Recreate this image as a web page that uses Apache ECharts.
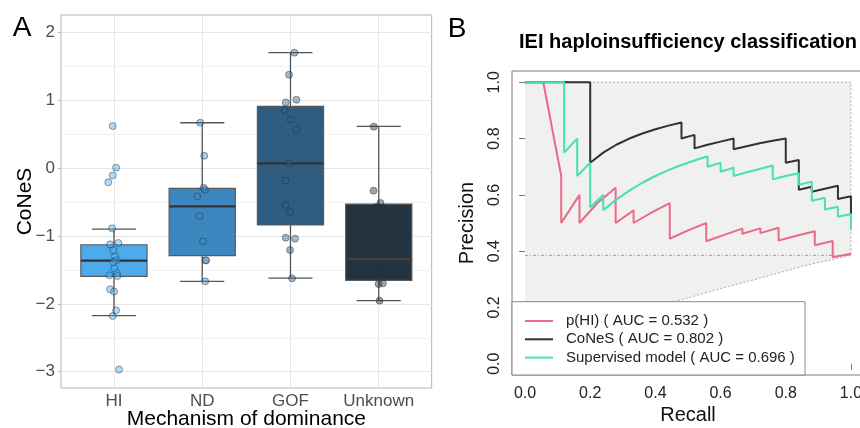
<!DOCTYPE html>
<html><head><meta charset="utf-8">
<script src="https://cdn.jsdelivr.net/npm/echarts@6/dist/echarts.min.js"></script>
<style>html,body{margin:0;padding:0;background:#fff}#c{width:860px;height:428px}</style>
</head><body><div id="c"></div>
<script>
// ---------- Panel A data ----------
const categories = ['HI', 'ND', 'GOF', 'Unknown'];
const whiskerLow  = [-2.174, -1.669, -1.62, -1.953];
const q1          = [-1.595, -1.29, -0.839, -1.654];
const median      = [-1.364, -0.564, 0.069, -1.34];
const q3          = [-1.13, -0.299, 0.909, -0.53];
const whiskerHigh = [-0.898, 0.668, 1.70, 0.614];
const yTicksA = [-3, -2, -1, 0, 1, 2];
const yMinorA = [-2.5, -1.5, -0.5, 0.5, 1.5];
// points: [jitter offset, CoNeS]
const hiPoints = [[-0.014,0.619],[0.024,0.005],[-0.014,-0.108],[-0.064,-0.21],[-0.022,-0.888],[-0.044,-1.124],[0.05,-1.104],[-0.007,-1.212],[0.012,-1.30],[0.032,-1.359],[-0.007,-1.384],[0.005,-1.48],[0.032,-1.546],[-0.052,-1.58],[0.039,-1.59],[-0.044,-1.786],[0.001,-1.82],[0.024,-2.096],[-0.014,-2.18],[0.058,-2.969]];
const ndPoints = [[-0.023,0.668],[0.023,0.182],[0.015,-0.289],[0.031,-0.318],[-0.057,-0.417],[-0.031,-0.707],[0.008,-1.08],[0.037,-1.359],[0.045,-1.36],[0.034,-1.669]];
const gofPoints = [[0.044,1.70],[-0.016,1.375],[0.067,1.007],[-0.054,0.967],[-0.066,0.85],[0.002,0.717],[0.067,0.565],[-0.012,0.069],[-0.054,-0.186],[-0.054,-0.545],[-0.005,-0.652],[-0.054,-1.026],[0.052,-1.04],[-0.005,-1.207],[0.018,-1.625]];
const unkPoints = [[-0.056,0.61],[-0.059,-0.333],[0.02,-0.515],[-0.025,-0.574],[0.066,-1.187],[0.02,-1.487],[0.035,-1.536],[-0.002,-1.708],[0.047,-1.698],[0.009,-1.953]];

// ---------- Panel B data ----------
const seriesNames = ['p(HI) ( AUC = 0.532 )', 'CoNeS ( AUC = 0.802 )', 'Supervised model ( AUC = 0.696 )'];
const prHI = [[0,1],[0.056,1],[0.111,0.667],[0.111,0.5],[0.167,0.6],[0.167,0.5],[0.222,0.571],[0.278,0.625],[0.278,0.5],[0.333,0.545],[0.333,0.5],[0.389,0.538],[0.444,0.571],[0.444,0.444],[0.5,0.474],[0.556,0.5],[0.556,0.435],[0.611,0.458],[0.667,0.48],[0.667,0.462],[0.722,0.481],[0.722,0.464],[0.778,0.483],[0.778,0.438],[0.833,0.455],[0.889,0.471],[0.889,0.421],[0.944,0.436],[0.944,0.378],[1,0.391]];
const prCoNeS = [[0,1],[0.2,1],[0.2,0.714],[0.24,0.75],[0.28,0.778],[0.32,0.8],[0.36,0.818],[0.4,0.833],[0.44,0.846],[0.48,0.857],[0.48,0.8],[0.52,0.813],[0.52,0.765],[0.56,0.778],[0.6,0.789],[0.64,0.8],[0.64,0.762],[0.68,0.773],[0.72,0.783],[0.76,0.792],[0.8,0.8],[0.8,0.714],[0.84,0.724],[0.84,0.618],[0.88,0.629],[0.88,0.611],[0.92,0.622],[0.96,0.632],[0.96,0.585],[1,0.595],[1,0.532]];
const prSupervised = [[0,1],[0.12,1],[0.12,0.75],[0.16,0.8],[0.16,0.667],[0.2,0.714],[0.2,0.556],[0.24,0.6],[0.24,0.545],[0.28,0.583],[0.32,0.615],[0.36,0.643],[0.4,0.667],[0.44,0.688],[0.48,0.706],[0.52,0.722],[0.56,0.737],[0.56,0.7],[0.6,0.714],[0.6,0.682],[0.64,0.696],[0.64,0.667],[0.68,0.68],[0.72,0.692],[0.76,0.704],[0.76,0.655],[0.8,0.667],[0.84,0.677],[0.84,0.636],[0.88,0.647],[0.88,0.579],[0.92,0.59],[0.92,0.548],[0.96,0.558],[0.96,0.522],[1,0.532],[1,0.477]];
const baseline = 0.385;
const lowerBound = [[1,0.385],[0.87,0.352],[0.74,0.31],[0.6,0.267],[0.455,0.219],[0.3,0.155],[0.2,0.11],[0.1,0.058],[0,0]];
const bTicks = [0, 0.2, 0.4, 0.6, 0.8, 1.0];

// ---------- styles ----------
const FONT = "'Liberation Sans', Arial, Helvetica, sans-serif";
const boxColors = ['#4EABEB', '#3D87C1', '#2F5D82', '#23333F'];
const pointFill = ['rgba(78,171,235,0.55)', 'rgba(61,135,193,0.55)', 'rgba(47,93,130,0.55)', 'rgba(35,51,63,0.55)'];
const lineColors = ['#EC6A86', '#30303A', '#45E2AC'];

const catPos = categories.map((c, i) => i + 1);
const boxData = categories.map((c, i) => [i + 1, whiskerLow[i], q1[i], median[i], q3[i], whiskerHigh[i]]);
const pointSets = [hiPoints, ndPoints, gofPoints, unkPoints];
const regionPts = [[0, 1], [1, 1]].concat(lowerBound);
const outlinePts = [[0, 1], [1, 1]].concat(lowerBound);

const minusFmt = v => (v < 0 ? '\u2212' + Math.abs(v) : String(v));

const chart = echarts.init(document.getElementById('c'), null, {renderer: 'canvas'});

const series = [];
// boxes
series.push({
  type: 'custom', xAxisIndex: 0, yAxisIndex: 0, z: 2, silent: true,
  data: boxData,
  renderItem: function (params, api) {
    const x = api.value(0), lo = api.value(1), a = api.value(2), m = api.value(3), b = api.value(4), hi = api.value(5);
    const hb = 0.375, hc = 0.25;
    const P = (xx, yy) => api.coord([xx, yy]);
    const col = boxColors[params.dataIndex];
    const wStyle = {stroke: '#555', lineWidth: 1.3, fill: null};
    const tl = P(x - hb, b), br = P(x + hb, a);
    const mL = P(x - hb, m), mR = P(x + hb, m);
    return {type: 'group', children: [
      {type: 'line', shape: {x1: P(x, b)[0], y1: P(x, b)[1], x2: P(x, hi)[0], y2: P(x, hi)[1]}, style: wStyle},
      {type: 'line', shape: {x1: P(x, a)[0], y1: P(x, a)[1], x2: P(x, lo)[0], y2: P(x, lo)[1]}, style: wStyle},
      {type: 'line', shape: {x1: P(x - hc, hi)[0], y1: P(x - hc, hi)[1], x2: P(x + hc, hi)[0], y2: P(x + hc, hi)[1]}, style: wStyle},
      {type: 'line', shape: {x1: P(x - hc, lo)[0], y1: P(x - hc, lo)[1], x2: P(x + hc, lo)[0], y2: P(x + hc, lo)[1]}, style: wStyle},
      {type: 'rect', shape: {x: tl[0], y: tl[1], width: br[0] - tl[0], height: br[1] - tl[1]}, style: {fill: col, stroke: '#5a5a5a', lineWidth: 1.2}},
      {type: 'line', shape: {x1: mL[0], y1: mL[1], x2: mR[0], y2: mR[1]}, style: {stroke: params.dataIndex === 3 ? '#4a3f36' : '#333', lineWidth: 2.2}}
    ]};
  },
  markLine: {
    silent: true, symbol: 'none', z: 1, animation: false,
    label: {show: false},
    lineStyle: {color: '#F2F2F2', type: 'solid', width: 1},
    data: yMinorA.map(v => ({yAxis: v}))
  }
});
pointSets.forEach((pts, i) => {
  series.push({
    type: 'scatter', xAxisIndex: 0, yAxisIndex: 0, z: 3, silent: true,
    symbolSize: 7,
    itemStyle: {color: pointFill[i], borderColor: 'rgba(25,40,55,0.55)', borderWidth: 1},
    data: pts.map(p => [i + 1 + p[0], p[1]])
  });
});
// panel B region
series.push({
  type: 'custom', xAxisIndex: 1, yAxisIndex: 1, z: 1, silent: true,
  data: regionPts,
  renderItem: function (params, api) {
    if (params.dataIndex !== 0) return null;
    return {type: 'polygon', shape: {points: regionPts.map(p => api.coord(p))}, style: {fill: '#F0F0F0'}};
  }
});
series.push({
  type: 'line', xAxisIndex: 1, yAxisIndex: 1, z: 1, silent: true, symbol: 'none',
  data: outlinePts, lineStyle: {color: '#AAAAAA', width: 1, type: [2, 2]}
});
series.push({
  type: 'line', xAxisIndex: 1, yAxisIndex: 1, z: 1, silent: true, symbol: 'none',
  data: [[0, baseline], [1, baseline]], lineStyle: {color: '#999', width: 1, type: [3, 2, 1, 2]}
});
[prHI, prCoNeS, prSupervised].forEach((d, i) => {
  series.push({
    type: 'line', name: seriesNames[i], xAxisIndex: 1, yAxisIndex: 1, z: 3 + i, silent: true,
    symbol: 'none', data: d, color: lineColors[i],
    lineStyle: {color: lineColors[i], width: 2}
  });
});

const option = {
  animation: false,
  backgroundColor: '#fff',
  textStyle: {fontFamily: FONT},
  grid: [
    {left: 61, top: 15, width: 370.7, height: 373, show: true, borderColor: '#B3B3B3', borderWidth: 1, backgroundColor: '#fff', outerBoundsMode: 'none', containLabel: false},
    {left: 512, top: 71, width: 352, height: 304, show: true, borderColor: '#7a7a7a', borderWidth: 1, backgroundColor: 'transparent', outerBoundsMode: 'none', containLabel: false}
  ],
  xAxis: [
    {
      type: 'value', gridIndex: 0, min: 0.4, max: 4.6,
      axisLine: {show: false},
      axisTick: {show: true, customValues: catPos, length: 3, lineStyle: {color: '#B3B3B3'}},
      axisLabel: {customValues: catPos, formatter: v => categories[Math.round(v) - 1], fontSize: 17, color: '#4D4D4D', margin: 5, fontFamily: FONT},
      splitLine: {show: true, lineStyle: {color: '#E6E6E6', width: 1}},
      name: 'Mechanism of dominance', nameLocation: 'middle', nameGap: 21, nameMoveOverlap: false,
      nameTextStyle: {fontSize: 21, color: '#000', fontFamily: FONT}
    },
    {
      type: 'value', gridIndex: 1, min: -0.04, max: 1.04,
      axisLine: {show: false},
      axisTick: {show: true, customValues: bTicks, length: 6, lineStyle: {color: '#777'}},
      axisLabel: {customValues: bTicks, formatter: v => v.toFixed(1), fontSize: 16, color: '#222', margin: 11, fontFamily: FONT, showMinLabel: true, showMaxLabel: true, hideOverlap: false},
      splitLine: {show: false},
      name: 'Recall', nameLocation: 'middle', nameGap: 30, nameMoveOverlap: false,
      nameTextStyle: {fontSize: 20, color: '#111', fontFamily: FONT}
    }
  ],
  yAxis: [
    {
      type: 'value', gridIndex: 0, min: -3.24, max: 2.255,
      axisLine: {show: false},
      axisTick: {show: true, customValues: yTicksA, length: 3, lineStyle: {color: '#B3B3B3'}},
      axisLabel: {customValues: yTicksA, formatter: minusFmt, fontSize: 17, color: '#4D4D4D', margin: 6, fontFamily: FONT},
      splitLine: {show: true, lineStyle: {color: '#E6E6E6', width: 1}},
      name: 'CoNeS', nameLocation: 'middle', nameGap: 25, nameMoveOverlap: false,
      nameTextStyle: {fontSize: 21, color: '#000', fontFamily: FONT}
    },
    {
      type: 'value', gridIndex: 1, min: -0.04, max: 1.04,
      axisLine: {show: false},
      axisTick: {show: true, customValues: bTicks, length: 6, lineStyle: {color: '#777'}},
      axisLabel: {customValues: bTicks, formatter: v => v.toFixed(1), rotate: 90, fontSize: 16, color: '#222', margin: 9, fontFamily: FONT, showMinLabel: true, showMaxLabel: true},
      splitLine: {show: false},
      name: 'Precision', nameLocation: 'middle', nameGap: 35, nameMoveOverlap: false,
      nameTextStyle: {fontSize: 20, color: '#111', fontFamily: FONT}
    }
  ],
  legend: {
    data: seriesNames, orient: 'vertical', left: 525, top: 313, padding: 0,
    itemWidth: 28, itemHeight: 2, itemGap: 2.3, icon: 'rect', z: 60,
    selectedMode: false,
    textStyle: {fontSize: 15, color: '#222', lineHeight: 16, fontFamily: FONT, padding: [0, 0, 0, 8]}
  },
  graphic: {
    elements: [
      {type: 'rect', z: 50, silent: true, shape: {x: 512, y: 301.7, width: 293, height: 73.3}, style: {fill: '#fff', stroke: '#888', lineWidth: 1}},
      {type: 'text', z: 50, x: 22, y: 28, style: {text: 'A', fontSize: 28, fontFamily: FONT, fill: '#000', align: 'center', verticalAlign: 'middle'}},
      {type: 'text', z: 50, x: 457, y: 29, style: {text: 'B', fontSize: 28, fontFamily: FONT, fill: '#000', align: 'center', verticalAlign: 'middle'}},
      {type: 'text', z: 50, x: 688, y: 42.5, style: {text: 'IEI haploinsufficiency classification', fontSize: 20, fontWeight: 'bold', fontFamily: FONT, fill: '#000', align: 'center', verticalAlign: 'middle'}}
    ]
  },
  series: series
};
chart.setOption(option);
</script>
</body></html>
